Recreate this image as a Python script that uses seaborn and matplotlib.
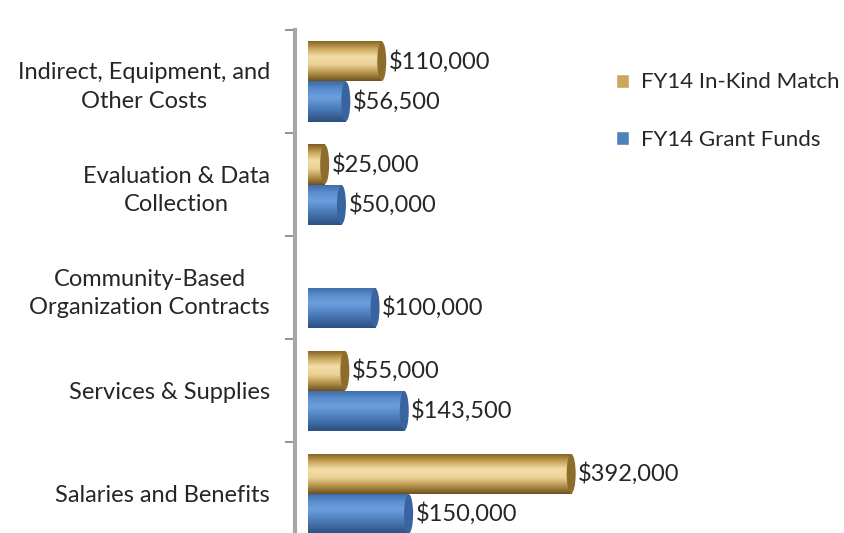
import numpy as np
import pandas as pd
import matplotlib.pyplot as plt
from matplotlib.colors import LinearSegmentedColormap
from matplotlib.patches import Ellipse
import seaborn as sns

# Категории сверху вниз и значения по сериям
categories = ['Indirect, Equipment, and\nOther Costs',
              'Evaluation & Data\nCollection',
              'Community-Based\nOrganization Contracts',
              'Services & Supplies',
              'Salaries and Benefits']
series_names = ['FY14 In-Kind Match', 'FY14 Grant Funds']
in_kind = [110000, 25000, 0, 55000, 392000]
grant = [56500, 50000, 100000, 143500, 150000]

data = pd.DataFrame({
    'category': categories * 2,
    'series': [series_names[0]] * 5 + [series_names[1]] * 5,
    'value': in_kind + grant,
})

sns.set_style('white')
plt.rcParams['font.family'] = ['Lato', 'DejaVu Sans']

fig = plt.figure(figsize=(8.45, 5.33), dpi=100)
ax = fig.add_axes([0.349, 0.0, 0.36, 0.944])

palette = {series_names[0]: '#C9A85E', series_names[1]: '#4F81BD'}
# градиенты под "цилиндры"
gradients = {
    series_names[0]: LinearSegmentedColormap.from_list(
        'gold', ['#7E5E1E', '#C9A45A', '#F3DDA6', '#EBD196', '#B8954C', '#6E5220']),
    series_names[1]: LinearSegmentedColormap.from_list(
        'blue', ['#3C6AA3', '#5B8ED0', '#6C9EDD', '#5585C4', '#3F6BA6', '#2C507F']),
}
caps = {series_names[0]: '#8C6D2C', series_names[1]: '#3A64A0'}

sns.barplot(data=data, y='category', x='value', hue='series',
            hue_order=series_names, order=categories, palette=palette,
            saturation=1, orient='h', width=0.78, ax=ax, legend=True)

xmin, xmax = -19300, 433600
cap_w = 9 * (xmax - xmin) / (0.36 * 845)
grad = np.linspace(0, 1, 64).reshape(-1, 1)

for cont, name in zip(ax.containers, series_names):
    for bar in cont:
        w = bar.get_width()
        if w <= 0:
            bar.set_visible(False)
            continue
        x0, y0, h = bar.get_x(), bar.get_y(), bar.get_height()
        bar.set_linewidth(0)
        im = ax.imshow(grad, extent=[x0, x0 + w, y0 + h, y0], aspect='auto',
                       cmap=gradients[name], zorder=bar.get_zorder() + 0.1)
        im.set_clip_path(bar)
        ax.add_patch(Ellipse((x0 + w, y0 + h / 2), cap_w, h * 0.98,
                             facecolor=caps[name], edgecolor='none',
                             zorder=bar.get_zorder() + 0.2))
    labels = ['' if v == 0 else f'${v:,.0f}' for v in cont.datavalues]
    ax.bar_label(cont, labels=labels, padding=5, fontsize=17)

ax.set_xlim(xmin, xmax)
ax.set_ylim(4.38, -0.5)
ax.set_xticks([])
ax.set_xlabel('')
ax.set_ylabel('')
ax.tick_params(axis='y', length=0, labelsize=17, pad=18)
for lbl in ax.get_yticklabels():
    lbl.set_multialignment('center')
    lbl.set_linespacing(1.45)
ax.set_yticks([i - 0.5 for i in range(5)], minor=True)
ax.tick_params(axis='y', which='minor', length=7, color='#808080', width=1.2, left=True)

for side in ['top', 'right', 'bottom']:
    ax.spines[side].set_visible(False)
ax.spines['left'].set_color('#A6A6A6')
ax.spines['left'].set_linewidth(3)

leg = ax.legend(loc='upper left', bbox_to_anchor=(0.99, 0.955), frameon=False,
                fontsize=16, handlelength=0.6, handleheight=0.6,
                labelspacing=1.7, handletextpad=0.5)

plt.savefig('out.png', dpi=100)
plt.close()
